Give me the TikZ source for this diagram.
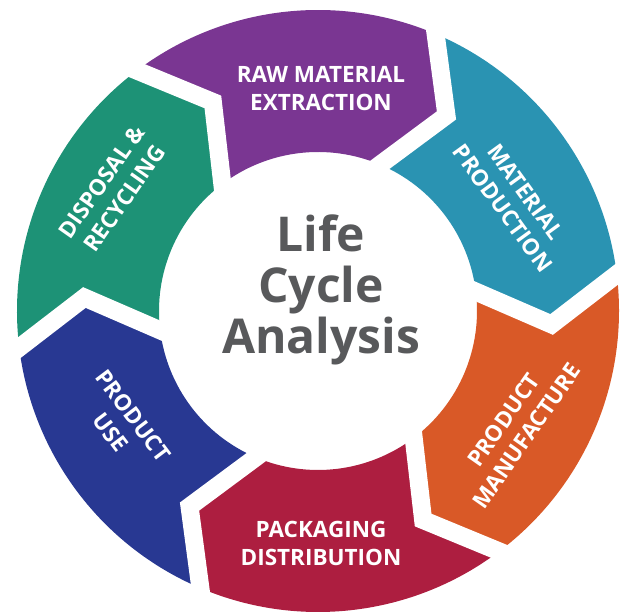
\documentclass[tikz,border=0pt]{standalone}
\usepackage{fontspec}
\setmainfont{Open Sans}
\definecolor{cpurple}{RGB}{122,54,146}
\definecolor{cteal}{RGB}{42,147,178}
\definecolor{corange}{RGB}{217,89,39}
\definecolor{ccrimson}{RGB}{173,30,64}
\definecolor{cblue}{RGB}{40,56,146}
\definecolor{cgreen}{RGB}{29,146,118}
\definecolor{cgray}{RGB}{88,89,91}
\begin{document}
\begin{tikzpicture}[x=1pt,y=1pt,
  lbl/.style={text=white, align=center, font=\fontsize{22.5}{28}\selectfont\bfseries, inner sep=0pt},
  gapline/.style={white, line width=18pt, line join=miter, miter limit=10, shorten <=-25pt, shorten >=-25pt}]
\useasboundingbox (0,0) rectangle (627,615);
\def\cx{318}\def\cy{304}
\def\Ro{301}\def\Ri{159}\def\Rm{234}\def\off{10.3}
\foreach \a/\c in {127/cpurple, 67/cteal, 7/corange, -53/ccrimson, -113/cblue, -173/cgreen}{
  \pgfmathsetmacro\b{\a-60}
  \pgfmathsetmacro\va{\a-\off}
  \pgfmathsetmacro\vb{\b-\off}
  \fill[\c] ([shift={(\cx,\cy)}]\a:\Ro) arc[start angle=\a, end angle=\b, radius=\Ro]
    -- ([shift={(\cx,\cy)}]\vb:\Rm) -- ([shift={(\cx,\cy)}]\b:\Ri)
    arc[start angle=\b, end angle=\a, radius=\Ri]
    -- ([shift={(\cx,\cy)}]\va:\Rm) -- cycle;
}
\foreach \a in {127, 67, 7, -53, -113, -173}{
  \pgfmathsetmacro\va{\a-\off}
  \draw[gapline] ([shift={(\cx,\cy)}]\a:\Ro) -- ([shift={(\cx,\cy)}]\va:\Rm) -- ([shift={(\cx,\cy)}]\a:\Ri);
}
\node[lbl] (raw) at (321,526.5) {RAW MATERIAL\\EXTRACTION};
\node[lbl, rotate=-54] (mp) at (514,415) {MATERIAL\\PRODUCTION};
\node[lbl, rotate=55] (pm) at (515,187) {PRODUCT\\MANUFACTURE};
\node[lbl] (pd) at (321,72) {PACKAGING\\DISTRIBUTION};
\node[lbl, rotate=-53] (pu) at (122,191) {PRODUCT\\USE};
\node[lbl, rotate=55] (dr) at (113,425) {DISPOSAL \&\\RECYCLING};
\node[text=cgray, align=center, font=\fontsize{48}{51}\selectfont\bfseries, inner sep=0pt] (lca) at (321,325) {Life\\Cycle\\Analysis};
\end{tikzpicture}
\end{document}
